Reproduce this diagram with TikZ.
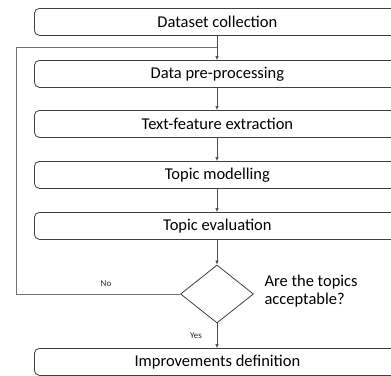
\documentclass[tikz,border=0pt]{standalone}
\usepackage{fontspec}
\setmainfont{Carlito}
\usetikzlibrary{arrows.meta,shapes.geometric}
\begin{document}
\begin{tikzpicture}[x=1pt,y=-1pt,
  box/.style={draw=black!75,line width=0.8pt,rounded corners=5pt,minimum width=366pt,minimum height=27pt,inner sep=0pt,font=\fontsize{16.5}{18}\selectfont,anchor=north west},
  conn/.style={draw=black!70,line width=0.6pt,-{Latex[length=4pt,width=3.5pt]}},
  plain/.style={draw=black!55,line width=0.6pt},
  small/.style={font=\fontsize{9}{10}\selectfont,text=black!85}]
\useasboundingbox (0,0) rectangle (391,375);
\begin{scope}
\clip (0,0) rectangle (391,375);
\node[box] (b1) at (34,8) {Dataset collection};
\node[box] (b2) at (34,60) {Data pre-processing};
\node[box] (b3) at (34,110) {Text-feature extraction};
\node[box] (b4) at (34,161) {Topic modelling};
\node[box] (b5) at (34,212) {Topic evaluation};
\node[draw=black!75,line width=0.8pt,diamond,minimum width=73pt,minimum height=58pt,inner sep=0pt,aspect=1.26] (d) at (217,294) {};
\node[box] (b6) at (34,348) {Improvements definition};
\end{scope}
\node[anchor=west,align=left,font=\fontsize{16.5}{18}\selectfont] (q) at (261,291) {Are the topics\\acceptable?};
\coordinate (m1) at (217,47);
\coordinate (l1) at (16,47);
\coordinate (l2) at (16,294);
\draw[conn] (217,35) -- (217,60);
\draw[plain] (d.west) -- (l2) -- (l1) -- (m1);
\draw[conn] (217,87) -- (217,110);
\draw[conn] (217,137) -- (217,161);
\draw[conn] (217,188) -- (217,212);
\draw[conn] (217,239) -- (d.north);
\draw[conn] (d.south) -- (217,348);
\node[small] (no) at (106,284) {No};
\node[small] (yes) at (196,336) {Yes};
\end{tikzpicture}
\end{document}
